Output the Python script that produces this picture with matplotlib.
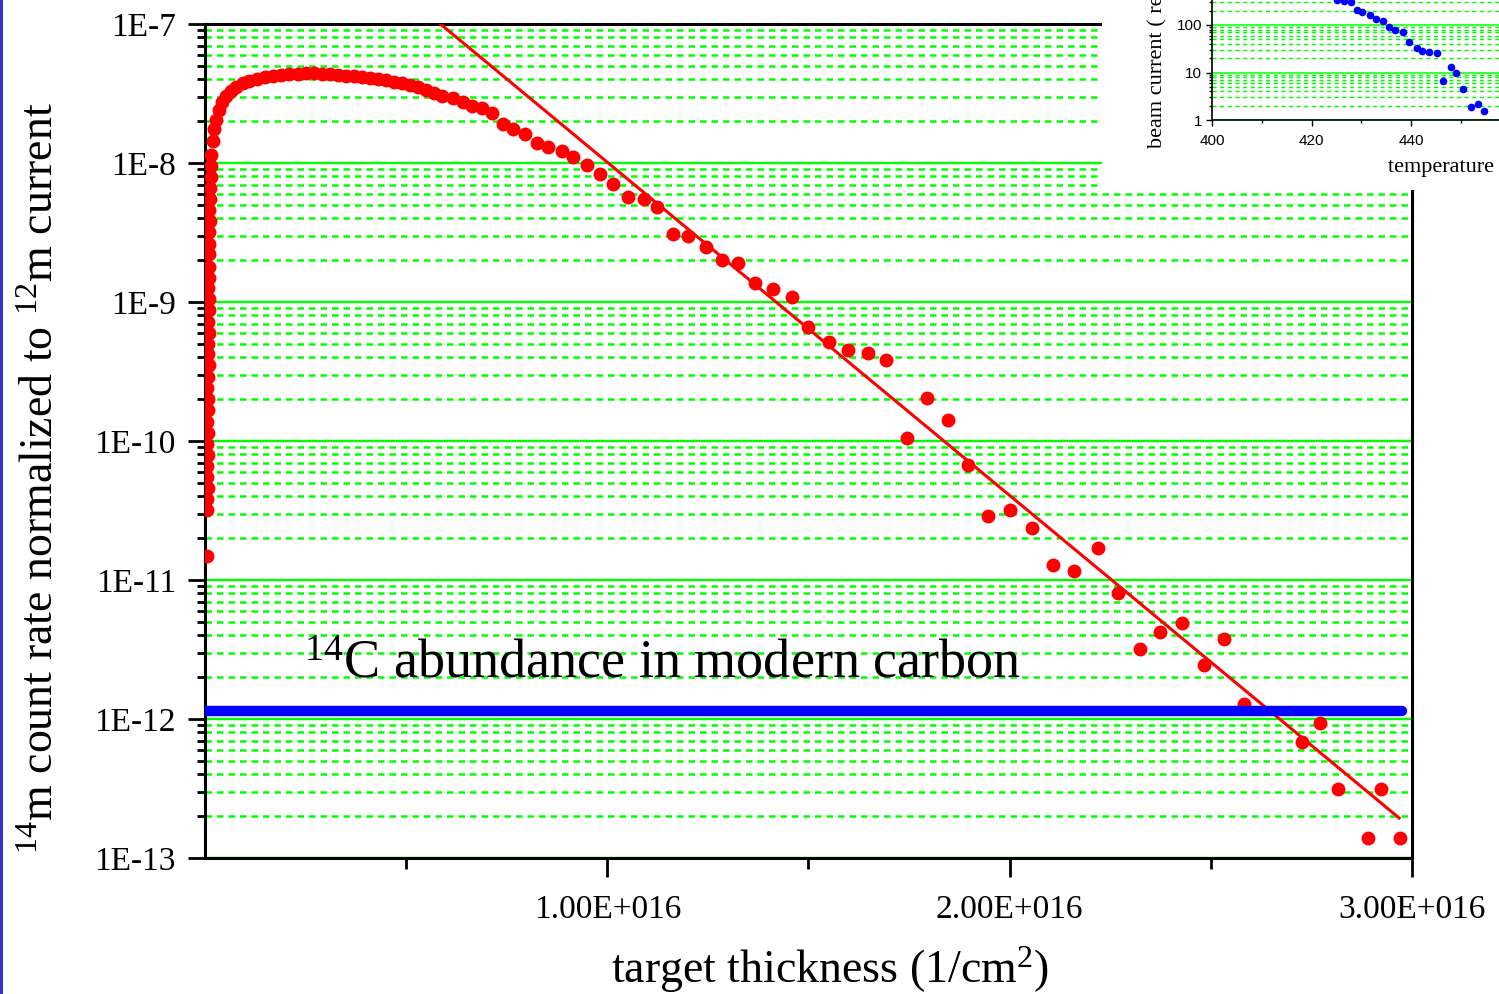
import numpy as np
import matplotlib
matplotlib.use('Agg')
import matplotlib.pyplot as plt
from matplotlib.patches import Rectangle
from matplotlib.ticker import LogLocator, NullFormatter

plt.rcParams['font.family'] = ['Liberation Serif', 'DejaVu Serif']
plt.rcParams['mathtext.fontset'] = 'custom'
plt.rcParams['mathtext.rm'] = 'Liberation Serif'
plt.rcParams['mathtext.it'] = 'Liberation Serif:italic'

# --- main data: target thickness (units of 1E16 /cm^2) vs normalized count rate
thick_e16 = [
    # steep rise right at the start
    0.006, 0.005, 0.007, 0.006, 0.005, 0.007, 0.006, 0.008, 0.006, 0.007, 0.008,
    0.006, 0.007, 0.009, 0.008, 0.007, 0.009, 0.008, 0.010, 0.009, 0.008, 0.010,
    0.011, 0.009, 0.011, 0.010, 0.012, 0.011, 0.013, 0.012, 0.014, 0.015,
    # dense band
    0.016, 0.019, 0.023, 0.028, 0.034, 0.042, 0.052, 0.064, 0.078, 0.094, 0.11,
    0.13, 0.15, 0.17, 0.19, 0.21, 0.23, 0.25, 0.27, 0.29, 0.31, 0.33, 0.35, 0.37,
    0.39, 0.41, 0.43, 0.45, 0.47, 0.49, 0.51, 0.53, 0.55, 0.57, 0.59,
    # single measurements
    0.617, 0.642, 0.664, 0.689, 0.714, 0.741, 0.766, 0.796, 0.826, 0.853, 0.888,
    0.915, 0.950, 0.983, 1.015, 1.052, 1.090, 1.124, 1.164, 1.201, 1.244, 1.286,
    1.326, 1.368, 1.413, 1.458, 1.500, 1.550, 1.597, 1.647, 1.692, 1.744, 1.794,
    1.846, 1.896, 1.945, 2.000, 2.055, 2.107, 2.159, 2.219, 2.269, 2.323, 2.373,
    2.428, 2.483, 2.532, 2.582, 2.726, 2.771, 2.816, 2.923, 2.891, 2.970,
    0.005,
]
count_rate = [
    3.2e-11, 3.8e-11, 4.6e-11, 5.5e-11, 6.6e-11, 7.9e-11, 9.5e-11, 1.15e-10,
    1.38e-10, 1.66e-10, 2.0e-10, 2.4e-10, 2.9e-10, 3.5e-10, 4.2e-10, 5.0e-10,
    6.0e-10, 7.2e-10, 8.7e-10, 1.05e-9, 1.26e-9, 1.5e-9, 1.8e-9, 2.2e-9, 2.6e-9,
    3.2e-9, 3.8e-9, 4.6e-9, 5.5e-9, 6.6e-9, 7.9e-9, 9.5e-9,
    1.15e-8, 1.45e-8, 1.75e-8, 2.05e-8, 2.4e-8, 2.75e-8, 3.05e-8, 3.3e-8, 3.55e-8,
    3.75e-8, 3.9e-8, 4.05e-8, 4.15e-8, 4.25e-8, 4.3e-8, 4.35e-8, 4.4e-8, 4.45e-8,
    4.45e-8, 4.4e-8, 4.4e-8, 4.3e-8, 4.25e-8, 4.2e-8, 4.15e-8, 4.1e-8, 4.0e-8,
    3.95e-8, 3.85e-8, 3.75e-8, 3.65e-8, 3.5e-8, 3.35e-8, 3.2e-8, 3.05e-8,
    2.94e-8, 2.75e-8, 2.57e-8, 2.49e-8, 2.29e-8, 1.91e-8, 1.76e-8, 1.62e-8,
    1.39e-8, 1.30e-8, 1.22e-8, 1.10e-8, 9.7e-9, 8.3e-9, 7.1e-9, 5.7e-9, 5.5e-9,
    4.8e-9, 3.1e-9, 2.98e-9, 2.49e-9, 2.0e-9, 1.91e-9, 1.37e-9, 1.24e-9, 1.09e-9,
    6.6e-10, 5.15e-10, 4.5e-10, 4.3e-10, 3.83e-10, 1.05e-10, 2.04e-10, 1.42e-10,
    6.7e-11, 2.9e-11, 3.2e-11, 2.37e-11, 1.28e-11, 1.16e-11, 1.70e-11, 8.05e-12,
    3.19e-12, 4.23e-12, 4.91e-12, 2.45e-12, 3.77e-12, 1.28e-12, 6.8e-13, 9.35e-13,
    3.13e-13, 3.13e-13, 1.39e-13, 1.39e-13,
    1.5e-11,
]

# exponential fit (straight on log axis), end points
fit_thick_e16 = [0.585, 2.968]
fit_rate = [1e-7, 1.94e-13]

# 14C abundance in modern carbon
modern_level = 1.15e-12
modern_range_e16 = [0.0, 2.975]

y_ticks = [1e-13, 1e-12, 1e-11, 1e-10, 1e-9, 1e-8, 1e-7]
y_labels = ['1E-13', '1E-12', '1E-11', '1E-10', '1E-9', '1E-8', '1E-7']
x_ticks_e16 = [1, 2, 3]
x_labels = ['1.00E+016', '2.00E+016', '3.00E+016']

# --- inset data: beam current vs temperature
temp = [425.1, 426.5, 427.9, 429.1, 430.2, 431.8, 433.0, 434.4, 435.6, 436.8,
        438.4, 439.6, 441.2, 442.2, 443.6, 445.2, 446.4, 448.0, 449.0, 450.5,
        452.1, 453.5, 454.7]
beam = [336, 320, 305, 207, 188, 162, 134, 121, 91, 78.5,
        71, 44, 33, 28.4, 27.5, 25.7, 6.6, 13, 9.8, 4.5,
        1.9, 2.17, 1.55]

W, H = 1499, 994
fig = plt.figure(figsize=(W / 100, H / 100), dpi=100)
ax = fig.add_axes([205 / W, 1 - 858 / H, 1207 / W, 834 / H])

green = '#00ff00'
ax.set_yscale('log')
ax.set_xlim(0, 3e16)
ax.set_ylim(1e-13, 1e-7)
ax.set_yticks(y_ticks, labels=y_labels)
ax.yaxis.set_minor_locator(LogLocator(base=10, subs=np.arange(2, 10), numticks=100))
ax.yaxis.set_minor_formatter(NullFormatter())
ax.set_xticks(np.array(x_ticks_e16) * 1e16, labels=x_labels)
ax.set_xticks(np.array([0.5, 1.5, 2.5]) * 1e16, minor=True)

ax.set_axisbelow(True)
ax.yaxis.grid(True, which='major', color=green, lw=1.7, ls='-')
ax.yaxis.grid(True, which='minor', color=green, lw=1.8, ls=(0, (2.6, 2.0)))

ax.tick_params(which='both', direction='out', width=2, labelsize=24,
               right=False, top=False)
ax.tick_params(axis='y', which='major', length=12, pad=9)
ax.tick_params(axis='y', which='minor', length=6)
ax.tick_params(axis='x', which='major', length=14, pad=12)
ax.tick_params(axis='x', which='minor', length=8)
for sp in ax.spines.values():
    sp.set_linewidth(2.2)

ax.plot(np.array(fit_thick_e16) * 1e16, fit_rate, color='#ff0000', lw=2.2, zorder=3)
ax.plot(np.array(thick_e16) * 1e16, count_rate, 'o', color='#ff0000', ms=9,
        mec='#ff0000', zorder=4)
ax.plot(np.array(modern_range_e16) * 1e16, [modern_level, modern_level],
        color='#0000ff', lw=7.5, solid_capstyle='round', zorder=5)

ax.text(0.245e16, 2.0e-12, r'$^{14}$C abundance in modern carbon', fontsize=39,
        va='baseline', ha='left', zorder=6)

fig.text(42 / W, 1 - 478 / H, r'$^{14}$m count rate normalized to $^{12}$m current',
         rotation=90, ha='center', va='center', fontsize=33)
fig.text(830 / W, 1 - 983 / H, r'target thickness (1/cm$^2$)',
         ha='center', va='baseline', fontsize=33)

# white area behind the inset and the thin blue frame on the left
fig.add_artist(Rectangle((1102 / W, 1 - 190 / H), 1 - 1102 / W, 190 / H,
                         transform=fig.transFigure, fc='white', ec='none', zorder=5))
fig.add_artist(Rectangle((0, 0), 3 / W, 1, transform=fig.transFigure,
                         fc='#3333cc', ec='none', zorder=5))

# inset
axi = fig.add_axes([1212 / W, 1 - 120 / H, 298.5 / W, 142.5 / H])
axi.set_zorder(10)
axi.set_yscale('log')
axi.set_xlim(400, 460)
axi.set_ylim(1, 1000)
axi.set_yticks([1, 10, 100], labels=['1', '10', '100'])
axi.yaxis.set_minor_locator(LogLocator(base=10, subs=np.arange(2, 10), numticks=100))
axi.yaxis.set_minor_formatter(NullFormatter())
axi.set_xticks([400, 420, 440], labels=['400', '420', '440'])
axi.set_xticks([410, 430, 450], minor=True)
axi.set_axisbelow(True)
axi.yaxis.grid(True, which='major', color=green, lw=1.1, ls='-')
axi.yaxis.grid(True, which='minor', color=green, lw=1.0, ls=(0, (3, 2.5)))
axi.tick_params(which='both', direction='out', width=1, labelsize=11)
axi.tick_params(which='major', length=4, pad=3)
axi.tick_params(axis='x', which='major', pad=6)
axi.tick_params(which='minor', length=2.5)
for lab in axi.get_xticklabels() + axi.get_yticklabels():
    lab.set_family(['Liberation Sans', 'DejaVu Sans'])
for side in ['top', 'right']:
    axi.spines[side].set_visible(False)
for side in ['left', 'bottom']:
    axi.spines[side].set_linewidth(1.2)
axi.plot(temp, beam, 'o', color='#0000ff', ms=4.5)

fig.text(1158 / W, 1 - 148 / H, 'beam current ( rel. units)', rotation=90,
         ha='center', va='bottom', fontsize=16, zorder=11)
fig.text(1388 / W, 1 - 172 / H, 'temperature \u00b0C', ha='left', va='baseline',
         fontsize=16, zorder=11)

fig.savefig('out.png', dpi=100)
